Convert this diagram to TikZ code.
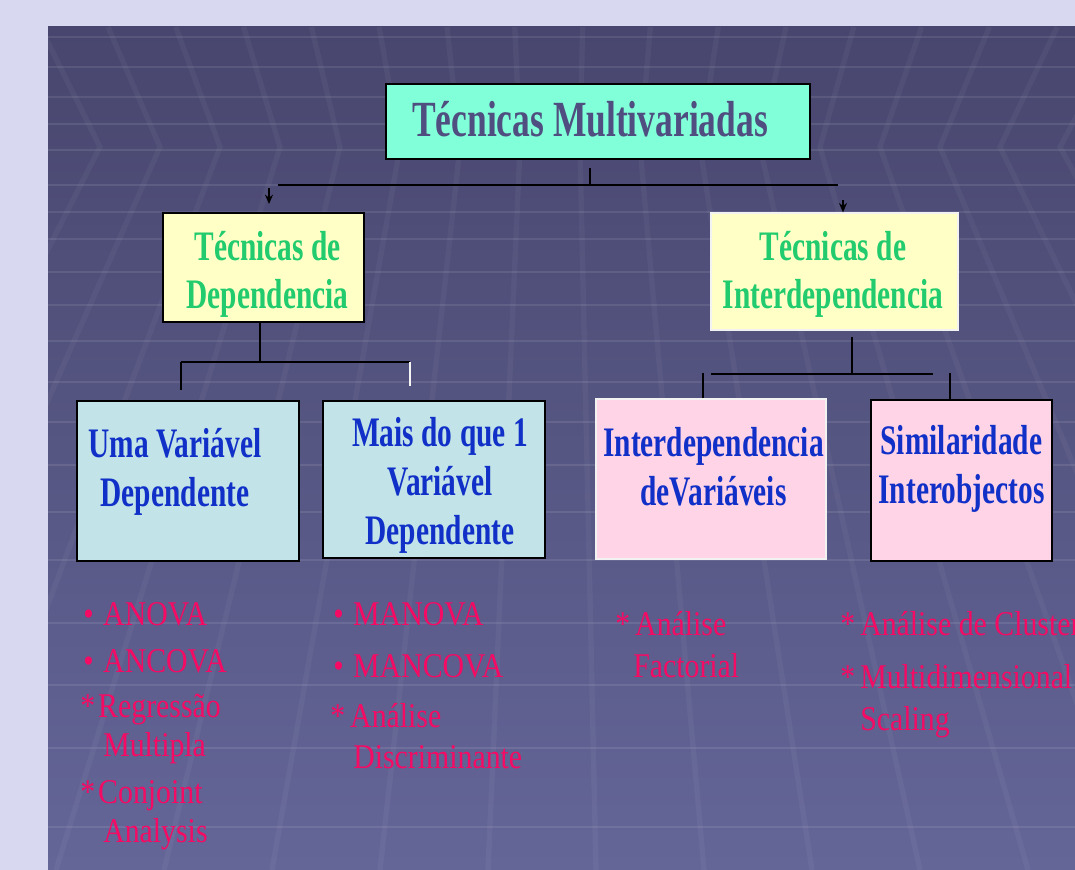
\documentclass[tikz,border=0pt]{standalone}
\usepackage{fontspec}
\setmainfont{Liberation Serif}
\newfontfamily\boxfont{Liberation Serif}[FakeStretch=0.7]
\newfontfamily\listfont{Liberation Serif}[FakeStretch=0.86]
\usepackage{xcolor}
\usepackage{tikz}
\usetikzlibrary{arrows.meta, positioning, calc}

\definecolor{slidebg}{RGB}{216,216,240}
\definecolor{paneltop}{RGB}{72,70,110}
\definecolor{panelbot}{RGB}{100,102,152}
\definecolor{aquafill}{RGB}{128,255,216}
\definecolor{titleink}{RGB}{80,78,128}
\definecolor{yellowfill}{RGB}{255,255,198}
\definecolor{greenink}{RGB}{34,204,110}
\definecolor{cyanfill}{RGB}{194,228,232}
\definecolor{blueink}{RGB}{16,48,200}
\definecolor{pinkfill}{RGB}{255,212,230}
\definecolor{pinkink}{RGB}{245,10,100}

\newcommand{\itemdot}[1]{\makebox[#1][l]{\hspace{2.25pt}\textbullet}}
\newcommand{\itemstar}[1]{\makebox[#1][l]{*}}

\begin{document}
\begin{tikzpicture}[
    x=0.75pt, y=-0.75pt,
    box/.style={rectangle, draw=black, line width=1.5pt, inner sep=0pt},
    headbox/.style={box, fill=aquafill, minimum width=318pt, minimum height=56.25pt},
    groupbox/.style={box, fill=yellowfill},
    depbox/.style={box, fill=cyanfill, minimum width=166.5pt},
    intbox/.style={box, fill=pinkfill},
    headtext/.style={inner sep=0pt, text=titleink, font=\fontsize{38pt}{44pt}\boxfont\bfseries},
    grouptext/.style={inner sep=0pt, align=center, text=greenink, font=\fontsize{31.5pt}{36pt}\boxfont\bfseries},
    methodtext/.style={inner sep=0pt, align=center, text=blueink, font=\fontsize{31.5pt}{36.75pt}\boxfont\bfseries},
    listtext/.style={inner sep=0pt, align=left, anchor=north west, text=pinkink, font=\fontsize{26pt}{29.25pt}\listfont},
    link/.style={draw=black, line width=1.5pt},
    arrowlink/.style={link, -{Stealth[length=7pt, width=6pt]}},
    gridline/.style={white, opacity=0.09, line width=1.5pt},
    gridslant/.style={white, opacity=0.04, line width=4pt}
]
\useasboundingbox (0,0) rectangle (1075,870);

% Slide background
\fill[slidebg] (0,0) rectangle (1075,870);
\shade[top color=paneltop, bottom color=panelbot] (48,27) rectangle (1075,870);
\begin{scope}
    \clip (48,27) rectangle (1075,870);
    \foreach \gy in {37,67,97,124,150,185,212,239,272,305,341,382,422,465,512,560,623,685,748,827}
        \draw[gridline] (48,\gy) -- (1075,\gy);
    \foreach \gi in {0,...,16} {
        \pgfmathsetmacro{\xm}{100+60*\gi}
        \pgfmathsetmacro{\xt}{560+(\xm-560)*1.13}
        \pgfmathsetmacro{\xb}{560+(\xm-560)*1.8}
        \draw[gridslant] (\xt,27) -- (\xm,147) -- (\xb,870);
    }
\end{scope}

% Top of the tree
\node[headbox] (multi) at (598,121.5) {};
\node[headtext] (multitext) at ($(multi)+(-8,-2)$) {Técnicas Multivariadas};

% Second level
\node[groupbox, minimum width=150.75pt, minimum height=81.75pt] (dep) at (263.5,267.5) {};
\node[grouptext] (deptext) at ($(dep)+(4,6.5)$) {Técnicas de\\Dependencia};

\node[groupbox, draw=white!90!gray, line width=1pt, minimum width=185.25pt, minimum height=87.75pt] (inter) at (834.5,271.5) {};
\node[grouptext] (intertext) at ($(inter)+(-1.5,2.5)$) {Técnicas de\\Interdependencia};

% Third level
\node[depbox, minimum height=120pt] (uma) at (188,481) {};
\node[methodtext] (umatext) at ($(uma)+(-13,-9)$) {Uma Variável\\Dependente};

\node[depbox, minimum height=117.75pt] (mais) at (434,479.5) {};
\node[methodtext] (maistext) at ($(mais)+(6,5.5)$) {Mais do que 1\\Variável\\Dependente};

\node[intbox, draw=white!90!gray, line width=1pt, minimum width=172.5pt, minimum height=120pt] (intvar) at (711,479) {};
\node[methodtext] (intvartext) at ($(intvar)+(2.5,-12.5)$) {Interdependencia\\deVariáveis};

\node[intbox, minimum width=135.75pt, minimum height=120.75pt] (simil) at (961.5,480.5) {};
\node[methodtext] (similtext) at ($(simil)+(0,-12)$) {Similaridade\\Interobjectos};

% Connectors from the top box
\coordinate (topstub) at (590,185);
\coordinate (topbusL) at (278,185);
\coordinate (topbusR) at (838,185);
\coordinate (arrowL) at (269,188);
\coordinate (arrowR) at (843,200);
\draw[link, shorten <=6pt] (multi.south -| topstub) -- (topstub);
\draw[link] (topbusL) -- (topbusR);
\draw[arrowlink, shorten >=6pt] (arrowL) -- (arrowL |- dep.north);
\draw[arrowlink] (arrowR) -- (arrowR |- inter.north);

% Connectors under the dependence box
\coordinate (depstub) at (260,362);
\coordinate (depbusL) at (181,362);
\coordinate (depbusR) at (410,362);
\draw[link] (dep.south -| depstub) -- (depstub);
\draw[link] (depbusL) -- (depbusR);
\draw[link, shorten >=7.5pt] (depbusL) -- (depbusL |- uma.north);
\draw[link, draw=white!92!gray, shorten >=10.5pt] (depbusR) -- (depbusR |- mais.north);

% Connectors under the interdependence box
\coordinate (interstub) at (852,374);
\coordinate (interbusL) at (711,374);
\coordinate (interbusR) at (933,374);
\coordinate (dropA) at (703,373);
\coordinate (dropB) at (950,373);
\draw[link, shorten <=4.5pt] (inter.south -| interstub) -- (interstub);
\draw[link] (interbusL) -- (interbusR);
\draw[link] (dropA) -- (dropA |- intvar.north);
\draw[link] (dropB) -- (dropB |- simil.north);

% Methods under each box
\node[listtext] (listuma) at (80,602) {%
    \itemdot{17.25pt}ANOVA\\[6pt]
    \itemdot{17.25pt}ANCOVA\\[4.5pt]
    \itemstar{13.5pt}Regressão\\
    \hspace*{17.25pt}Multipla\\[6pt]
    \itemstar{13.5pt}Conjoint\\
    \hspace*{17.25pt}Analysis};

\node[listtext] (listmais) at (330,602) {%
    \itemdot{17.25pt}MANOVA\\[9.75pt]
    \itemdot{17.25pt}MANCOVA\\[8.25pt]
    \itemstar{15pt}Análise\\[1.5pt]
    \hspace*{17.25pt}Discriminante};

\node[listtext] (listintvar) at (615,611) {%
    \itemstar{15pt}Análise\\[2.25pt]
    \hspace*{13.5pt}Factorial};

\node[listtext] (listsimil) at (840,611) {%
    \itemstar{15pt}Análise de Cluster\\[10.5pt]
    \itemstar{15pt}Multidimensional\\[2.25pt]
    \hspace*{15pt}Scaling};

\end{tikzpicture}
\end{document}
